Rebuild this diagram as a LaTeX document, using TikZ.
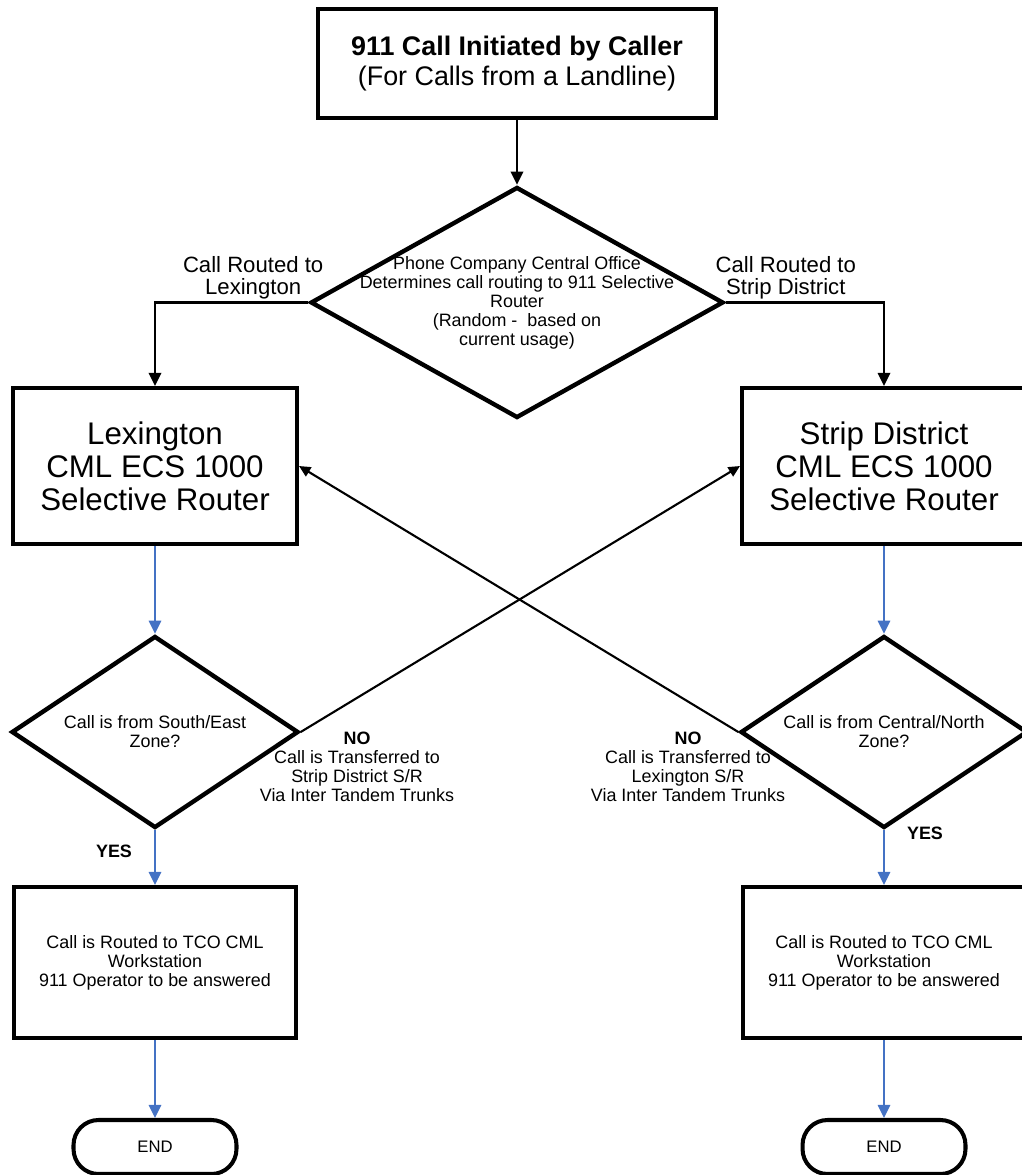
\documentclass[tikz,border=0pt]{standalone}
\usepackage{fontspec}
\setmainfont{Liberation Sans}
\usetikzlibrary{shapes.geometric,arrows.meta}
\definecolor{flowblue}{RGB}{68,114,196}

\tikzset{
  blk/.style={draw, line width=2.3pt, align=center, inner sep=0pt},
  topbox/.style={blk, minimum width=7.96cm, minimum height=2.18cm, font=\fontsize{15.3}{17}\selectfont},
  srbox/.style={blk, minimum width=5.68cm, minimum height=3.12cm, font=\fontsize{17.8}{18.7}\selectfont},
  wsbox/.style={blk, minimum width=5.66cm, minimum height=3.02cm, font=\fontsize{10.2}{10.8}\selectfont},
  decision/.style={diamond, draw, line width=2.5pt, inner sep=0pt},
  zonecheck/.style={decision, minimum width=5.74cm, minimum height=3.84cm},
  endbox/.style={draw, line width=2.3pt, rounded corners=0.5cm, minimum width=3.26cm, minimum height=1.08cm, font=\fontsize{9.5}{10}\selectfont},
  note/.style={align=center, inner sep=0pt, font=\fontsize{10.2}{10.8}\selectfont},
  routelbl/.style={align=center, inner sep=1pt, font=\fontsize{12.6}{13}\selectfont},
  blkarrow/.style={line width=1.4pt, -{Triangle[length=7.5pt,width=7pt]}},
  crossarrow/.style={line width=1.2pt, -{Triangle[length=6.5pt,width=6pt]}},
  bluearrow/.style={line width=1.3pt, draw=flowblue, -{Triangle[length=7.5pt,width=7pt]}}
}

\begin{document}
\begin{tikzpicture}[x=0.02cm, y=-0.02cm]
  \useasboundingbox (0,0) rectangle (1021,1175);

  % start and central office
  \node[topbox] (caller) at (517,63.5) {\textbf{911 Call Initiated by Caller}\\(For Calls from a Landline)};
  \node[decision, minimum width=8.26cm, minimum height=4.62cm,
        label={[note]center:{Phone Company Central Office\\Determines call routing to 911 Selective\\Router\\(Random - \ based on\\current usage)}}] (office) at (517,302.5) {};

  % selective routers
  \node[srbox] (lex) at (155,466) {Lexington\\CML ECS 1000\\Selective Router};
  \node[srbox] (strip) at (884,466) {Strip District\\CML ECS 1000\\Selective Router};

  % zone checks
  \node[zonecheck, label={[note]center:{Call is from South/East\\Zone?}}] (secheck) at (155,732) {};
  \node[zonecheck, label={[note]center:{Call is from Central/North\\Zone?}}] (cncheck) at (884,732) {};

  % workstations and ends
  \node[wsbox] (lexws) at (155,962.5) {Call is Routed to TCO CML\\Workstation\\911 Operator to be answered};
  \node[wsbox] (stripws) at (884,962.5) {Call is Routed to TCO CML\\Workstation\\911 Operator to be answered};
  \node[endbox] (lexend) at (155,1147) {END};
  \node[endbox] (stripend) at (884,1147) {END};

  % labels
  \node[note] (lexno) at (357,767) {\textbf{NO}\\Call is Transferred to\\Strip District S/R\\Via Inter Tandem Trunks};
  \node[note] (stripno) at (688,767) {\textbf{NO}\\Call is Transferred to\\Lexington S/R\\Via Inter Tandem Trunks};
  \node[note] (lexyes) at (114,851) {\textbf{YES}};
  \node[note] (stripyes) at (925,833) {\textbf{YES}};

  % connectors
  \draw[blkarrow] (caller) -- (office);
  \draw[blkarrow] (office.west) -| node[routelbl, above, pos=0.18] {Call Routed to\\Lexington} (lex.north);
  \draw[blkarrow] (office.east) -| node[routelbl, above, pos=0.19] {Call Routed to\\Strip District} (strip.north);

  \draw[crossarrow] (secheck.east) -- (strip.west);
  \draw[crossarrow] (cncheck.west) -- (lex.east);

  \draw[bluearrow] (lex) -- (secheck);
  \draw[bluearrow] (secheck) -- (lexws);
  \draw[bluearrow] (lexws) -- (lexend);
  \draw[bluearrow] (strip) -- (cncheck);
  \draw[bluearrow] (cncheck) -- (stripws);
  \draw[bluearrow] (stripws) -- (stripend);
\end{tikzpicture}
\end{document}
